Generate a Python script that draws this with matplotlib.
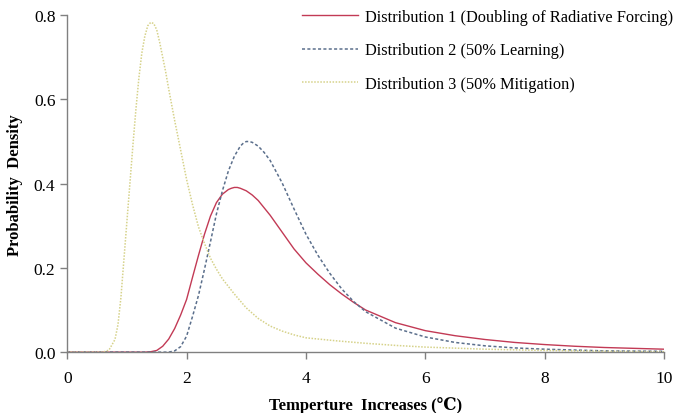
import matplotlib
matplotlib.use('Agg')
import matplotlib.pyplot as plt

plt.rcParams['font.family'] = ['Liberation Serif', 'DejaVu Serif']

# Distribution 1 (Doubling of Radiative Forcing)
x1 = [0, 1.3, 1.4, 1.5, 1.6, 1.7, 1.8, 1.9, 2.0, 2.1, 2.2, 2.3, 2.4, 2.5, 2.6, 2.7,
      2.75, 2.8, 2.85, 2.9, 3.0, 3.1, 3.2, 3.4, 3.6, 3.8, 4.0, 4.2, 4.4, 4.6, 4.8,
      5.0, 5.5, 6.0, 6.5, 7.0, 7.5, 8.0, 8.5, 9.0, 9.5, 10.0]
y1 = [0, 0, 0.001, 0.004, 0.014, 0.031, 0.056, 0.088, 0.125, 0.178, 0.23, 0.28,
      0.323, 0.355, 0.375, 0.386, 0.389, 0.391, 0.391, 0.389, 0.383, 0.373, 0.36,
      0.325, 0.285, 0.245, 0.212, 0.185, 0.16, 0.138, 0.118, 0.1, 0.07, 0.051,
      0.039, 0.03, 0.023, 0.018, 0.014, 0.011, 0.009, 0.007]

# Distribution 2 (50% Learning)
x2 = [0, 1.7, 1.8, 1.9, 2.0, 2.1, 2.2, 2.3, 2.4, 2.5, 2.6, 2.7, 2.8, 2.9, 2.95,
      3.0, 3.05, 3.1, 3.2, 3.3, 3.4, 3.6, 3.8, 4.0, 4.2, 4.4, 4.6, 4.8, 5.0, 5.5,
      6.0, 6.5, 7.0, 7.5, 8.0, 9.0, 10.0]
y2 = [0, 0, 0.003, 0.013, 0.038, 0.085, 0.135, 0.197, 0.262, 0.328, 0.383, 0.43,
      0.465, 0.489, 0.496, 0.5, 0.5, 0.498, 0.489, 0.474, 0.455, 0.402, 0.34,
      0.28, 0.23, 0.187, 0.15, 0.12, 0.096, 0.057, 0.036, 0.023, 0.015, 0.01,
      0.007, 0.003, 0.002]

# Distribution 3 (50% Mitigation)
x3 = [0, 0.6, 0.7, 0.8, 0.85, 0.9, 0.95, 1.0, 1.05, 1.1, 1.15, 1.2, 1.25, 1.3,
      1.35, 1.4, 1.45, 1.5, 1.55, 1.6, 1.65, 1.7, 1.8, 1.9, 2.0, 2.1, 2.2, 2.3,
      2.4, 2.5, 2.6, 2.8, 3.0, 3.2, 3.4, 3.6, 3.8, 4.0, 4.5, 5.0, 5.5, 6.0, 7.0,
      8.0, 9.0, 10.0]
y3 = [0, 0, 0.005, 0.03, 0.065, 0.13, 0.22, 0.31, 0.4, 0.49, 0.575, 0.65, 0.71,
      0.75, 0.775, 0.783, 0.78, 0.765, 0.735, 0.7, 0.665, 0.625, 0.55, 0.48,
      0.41, 0.35, 0.297, 0.258, 0.223, 0.197, 0.174, 0.138, 0.105, 0.08, 0.062,
      0.05, 0.041, 0.034, 0.027, 0.021, 0.016, 0.012, 0.007, 0.004, 0.002, 0.001]

labels = ['Distribution 1 (Doubling of Radiative Forcing)',
          'Distribution 2 (50% Learning)',
          'Distribution 3 (50% Mitigation)']

fig = plt.figure(figsize=(6.79, 4.14), dpi=100)
ax = fig.add_axes([0.099, 0.147, 0.879, 0.814])

ax.plot(x1, y1, color='#C23A55', lw=1.0, label=labels[0])
ax.plot(x2, y2, color='#5B6F8C', lw=1.1, linestyle=(0, (2, 1.5)), label=labels[1])
ax.plot(x3, y3, color='#D6D28A', lw=1.1, linestyle=(0, (1, 1)), label=labels[2])

ax.set_xlim(0, 10)
ax.set_ylim(0, 0.8)
ax.set_xticks([0, 2, 4, 6, 8, 10])
ax.set_yticks([0, 0.2, 0.4, 0.6, 0.8])
ax.set_yticklabels(['0.0', '0.2', '0.4', '0.6', '0.8'])

for s in ['top', 'right']:
    ax.spines[s].set_visible(False)
for s in ['left', 'bottom']:
    ax.spines[s].set_color('#808080')
    ax.spines[s].set_linewidth(1.0)
ax.tick_params(colors='#808080', labelcolor='black', labelsize=12.5,
               length=5, width=1.0, direction='out')
ax.tick_params(axis='x', pad=8)

ax.set_xlabel('Temperture  Increases (\u2103)', fontsize=12, fontweight='bold', labelpad=7)
ax.set_ylabel('Probability  Density', fontsize=12, fontweight='bold', labelpad=8)

ax.legend(loc='upper right', bbox_to_anchor=(1.04, 1.062), frameon=False,
          fontsize=11.8, handlelength=3.4, handletextpad=0.45, labelspacing=1.06)

plt.savefig('out.png', dpi=100)
